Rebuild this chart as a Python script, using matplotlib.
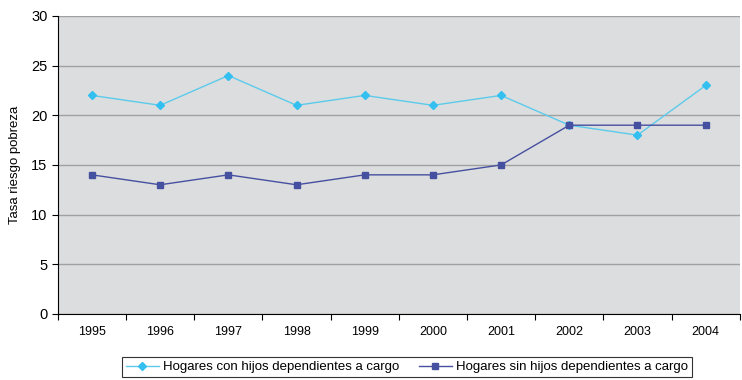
import numpy as np
import matplotlib.pyplot as plt

years = ['1995', '1996', '1997', '1998', '1999', '2000', '2001', '2002', '2003', '2004']
con_hijos = [22, 21, 24, 21, 22, 21, 22, 19, 18, 23]
sin_hijos = [14, 13, 14, 13, 14, 14, 15, 19, 19, 19]

plt.rcParams['font.family'] = ['Liberation Sans', 'DejaVu Sans']

fig = plt.figure(figsize=(7.42, 3.8), dpi=100)
ax = fig.add_axes([0.078, 0.174, 0.919, 0.784])
ax.set_facecolor('#DCDDDF')

x = np.arange(len(years)) + 0.5
ax.plot(x, con_hijos, color='#5CCBEB', lw=1, marker='D', ms=4.5,
        mfc='#33C0F0', mec='#33C0F0', label='Hogares con hijos dependientes a cargo')
ax.plot(x, sin_hijos, color='#4650A0', lw=1, marker='s', ms=5,
        mfc='#4650A0', mec='#4650A0', label='Hogares sin hijos dependientes a cargo')

ax.set_xlim(0, len(years))
ax.set_ylim(0, 30)
ax.set_yticks(range(0, 31, 5))
ax.yaxis.grid(True, color='#A0A0A0', lw=1)
ax.set_axisbelow(True)

ax.set_xticks(np.arange(len(years) + 1))
ax.set_xticklabels([])
ax.set_xticks(x, minor=True)
ax.set_xticklabels(years, minor=True)
ax.tick_params(axis='x', which='minor', length=0, pad=9, labelsize=9)
ax.tick_params(axis='x', which='major', length=4, direction='out')
ax.tick_params(axis='y', length=4, direction='out', labelsize=10.5)

for side in ['top', 'right']:
    ax.spines[side].set_visible(False)
ax.spines['left'].set_color('black')
ax.spines['bottom'].set_color('black')

ax.set_ylabel('Tasa riesgo pobreza', fontsize=9.5, labelpad=7)

leg = fig.legend(loc='lower center', bbox_to_anchor=(0.548, -0.01), ncol=2,
                 fontsize=9.5, frameon=True, fancybox=False, edgecolor='black',
                 handlelength=2.5, handletextpad=0.3, columnspacing=1.5,
                 borderpad=0.3)
leg.get_frame().set_linewidth(0.8)

fig.savefig('out.png', dpi=100)
